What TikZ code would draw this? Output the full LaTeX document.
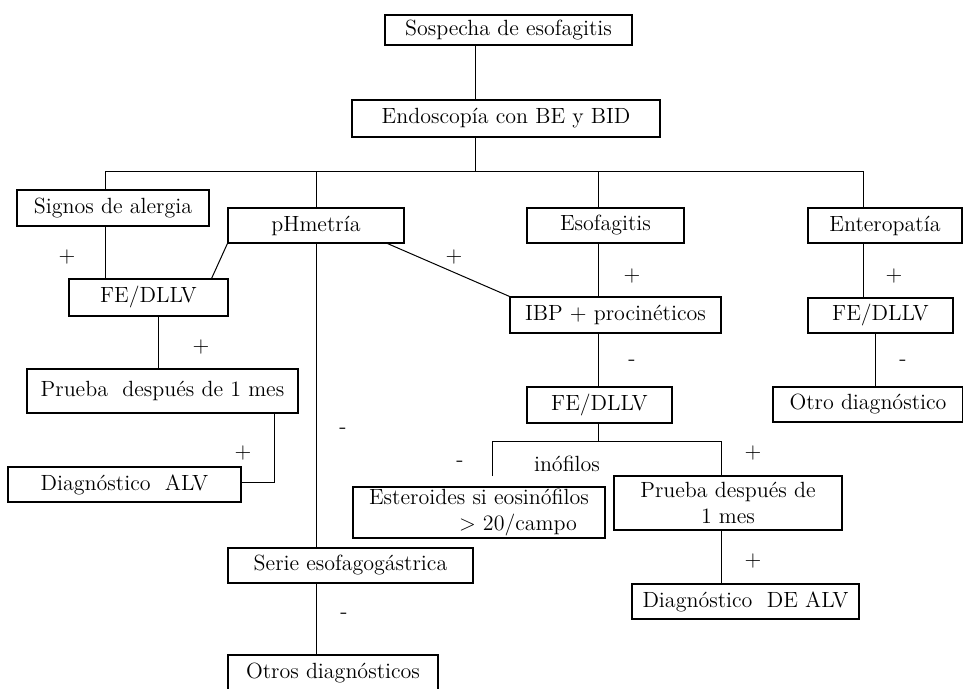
\documentclass[tikz,border=0pt]{standalone}
\usetikzlibrary{positioning}
\tikzstyle{block} = [rectangle, draw=black, line width=0.6pt, inner sep=0pt, text centered, font=\fontsize{11}{13}\selectfont]
\tikzstyle{line} = [line width=0.5pt]
\tikzstyle{sign} = [inner sep=0pt, font=\fontsize{11}{13}\selectfont]

\begin{document}
\begin{tikzpicture}[x=0.5pt, y=-0.5pt]
    \useasboundingbox (0,0) rectangle (963,689);

    % top of the tree
    \node [block, minimum width=123.5pt, minimum height=15pt] (sospecha) at (508.5,30) {Sospecha de esofagitis};
    \node [block, minimum width=154pt, minimum height=18.5pt] (endo) at (506,118.5) {Endoscop\'ia con BE y BID};

    % first level
    \node [block, minimum width=96pt, minimum height=18pt] (signos) at (113,208) {Signos de alergia};
    \node [block, minimum width=88pt, minimum height=17.5pt] (phm) at (316,225.5) {pHmetr\'ia};
    \node [block, minimum width=78.5pt, minimum height=17.5pt] (esof) at (605.5,225.5) {Esofagitis};
    \node [block, minimum width=77pt, minimum height=17.5pt] (ent) at (885,225.5) {Enteropat\'ia};

    % left branch
    \node [block, minimum width=79.5pt, minimum height=18.5pt] (fe1) at (148.5,297.5) {FE/DLLV};
    \node [block, minimum width=135.5pt, minimum height=22pt] (prueba1) at (162.5,391) {Prueba\ \ despu\'es de 1 mes};
    \node [block, minimum width=116.5pt, minimum height=17.5pt] (diag1) at (124.5,484.5) {Diagn\'ostico\ \ ALV};
    \node [block, minimum width=122.5pt, minimum height=17.5pt] (serie) at (350.5,565.5) {Serie esofagog\'astrica};
    \node [block, minimum width=105pt, minimum height=18.5pt] (otros) at (333,673.5) {Otros diagn\'osticos};

    % middle branch
    \node [block, minimum width=105.5pt, minimum height=18pt] (ibp) at (615.5,315) {IBP + procin\'eticos};
    \node [block, minimum width=72.5pt, minimum height=18pt] (fe2) at (599.5,405) {FE/DLLV};
    \node [block, minimum width=126pt, minimum height=25.5pt, align=left] (estero) at (479,512.5) {Esteroides si eosin\'ofilos\\\hspace*{45pt}\textgreater{} 20/campo};
    \node [block, minimum width=114pt, minimum height=27pt, align=center] (prueba2) at (728,503) {Prueba despu\'es de\\1 mes};
    \node [block, minimum width=113.5pt, minimum height=17.5pt] (diag2) at (745.5,601.5) {Diagn\'ostico\ \ DE ALV};

    % right branch
    \node [block, minimum width=72.5pt, minimum height=17.5pt] (fe3) at (880.5,315.5) {FE/DLLV};
    \node [block, minimum width=95pt, minimum height=17.5pt] (otro) at (868,404.5) {Otro diagn\'ostico};

    % junction points
    \coordinate (trunk) at (475,172);
    \coordinate (busL) at (105,172);
    \coordinate (busR) at (863,172);
    \coordinate (colE) at (598,172);
    \coordinate (colA) at (158,316);
    \coordinate (colB) at (274,482);
    \coordinate (colT) at (875,333);
    \coordinate (splitL) at (492,441);
    \coordinate (splitR) at (721,441);
    \coordinate (estUp) at (492,476);

    \draw[line] (trunk |- sospecha.south) -- (trunk |- endo.north);
    \draw[line] (trunk |- endo.south) -- (trunk);
    \draw[line] (busL |- signos.north) -- (busL) -- (busR) -- (busR |- ent.north);
    \draw[line] (phm.north) -- (phm.north |- busL);
    \draw[line] (colE) -- (colE |- esof.north);

    \draw[line] (busL |- signos.south) -- (busL |- fe1.north);
    \draw[line] (phm.south west) -- ([xshift=-8.5pt]fe1.north east);
    \draw[line] (colA |- fe1.south) -- (colA |- prueba1.north);
    \draw[line] (colB |- prueba1.south) -- (colB) -- (diag1.east |- colB);
    \draw[line] (phm.south) -- (phm.south |- serie.north);
    \draw[line] (phm.south |- serie.south) -- (phm.south |- otros.north);

    \draw[line] ([xshift=-8.5pt]phm.south east) -- (ibp.north west);
    \draw[line] (colE |- esof.south) -- (colE |- ibp.north);
    \draw[line] (colE |- ibp.south) -- (colE |- fe2.north);
    \draw[line] (colE |- fe2.south) -- (colE |- splitL);
    \draw[line] (estUp) -- (splitL) -- (splitR) -- (splitR |- prueba2.north);
    \draw[line] (splitR |- prueba2.south) -- (splitR |- diag2.north);

    \draw[line] (busR |- ent.south) -- (busR |- fe3.north);
    \draw[line] (colT |- fe3.south) -- (colT |- otro.north);

    % signs
    \node [sign] (s1) at (67,257) {+};
    \node [sign] (s2) at (454,257) {+};
    \node [sign] (s3) at (201,347) {+};
    \node [sign] (s4) at (243,453) {+};
    \node [sign] (s5) at (343,431) {-};
    \node [sign] (s6) at (460,464) {-};
    \node [sign] (s7) at (632,276) {+};
    \node [sign] (s8) at (632,363) {-};
    \node [sign] (s9) at (894,276) {+};
    \node [sign] (s10) at (903,363) {-};
    \node [sign] (s11) at (753,453) {+};
    \node [sign] (s12) at (753,561) {+};
    \node [sign] (s13) at (344,616) {-};
    \node [sign] (frag) at (567,464) {in\'ofilos};
\end{tikzpicture}
\end{document}
